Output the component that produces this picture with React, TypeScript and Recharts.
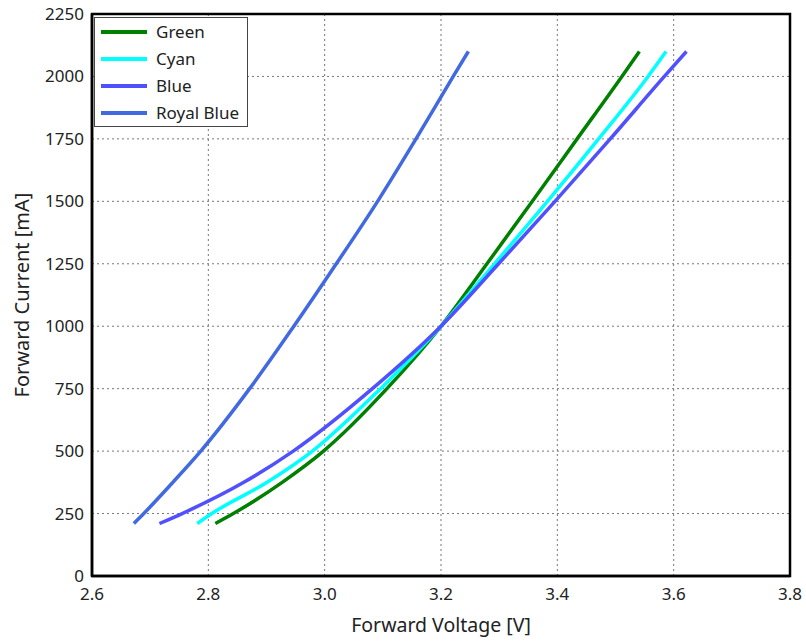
import React from 'react';
import {
  LineChart,
  Line,
  XAxis,
  YAxis,
  CartesianGrid,
  ReferenceArea,
} from 'recharts';

// Forward current sample points [mA], shared by all curves
const currentMA = [210, 250, 375, 500, 750, 1000, 1250, 1500, 1750, 2000, 2100];

// Forward voltage [V] at the currents above
const greenV = [2.812, 2.843, 2.927, 2.998, 3.107, 3.2, 3.279, 3.357, 3.434, 3.511, 3.541];
const cyanV = [2.781, 2.806, 2.901, 2.979, 3.096, 3.2, 3.292, 3.383, 3.471, 3.556, 3.587];
const blueV = [2.716, 2.755, 2.861, 2.946, 3.082, 3.2, 3.299, 3.396, 3.491, 3.584, 3.622];
const royalBlueV = [2.672, 2.689, 2.739, 2.787, 2.871, 2.947, 3.02, 3.091, 3.157, 3.221, 3.247];

const xTicks = [2.6, 2.8, 3.0, 3.2, 3.4, 3.6, 3.8];
const yTicks = [0, 250, 500, 750, 1000, 1250, 1500, 1750, 2000, 2250];

const SERIES = [
  { name: 'Green', color: '#008000', volts: greenV },
  { name: 'Cyan', color: '#00ffff', volts: cyanV },
  { name: 'Blue', color: '#5050ff', volts: blueV },
  { name: 'Royal Blue', color: '#4169e1', volts: royalBlueV },
];

const FONT = '"Noto Sans", "Open Sans", sans-serif';

function toPoints(volts: number[]) {
  return volts.map((v, i) => ({ v, i: currentMA[i] }));
}

// legend drawn as an overlay so it doesn't eat into the plot area
function LegendBox() {
  return (
    <div
      style={{
        position: 'absolute',
        left: 94,
        top: 17,
        border: '1.5px solid #444',
        background: '#fff',
        padding: '0 8px 0 6px',
        fontFamily: FONT,
        fontSize: 17,
        color: '#222',
      }}
    >
      {SERIES.map((s) => (
        <div key={s.name} style={{ display: 'flex', alignItems: 'center', height: 27 }}>
          <svg width={46} height={6} style={{ marginRight: 9 }}>
            <line x1={0} y1={3} x2={46} y2={3} stroke={s.color} strokeWidth={4} />
          </svg>
          <span>{s.name}</span>
        </div>
      ))}
    </div>
  );
}

export default function App() {
  return (
    <div style={{ position: 'absolute', left: 0, top: 0, width: 806, height: 642, background: '#fff' }}>
      <LineChart
        width={806}
        height={642}
        margin={{ top: 14, right: 16, left: 0, bottom: 0 }}
      >
        <CartesianGrid stroke="#777" strokeDasharray="2 3" />
        <XAxis
          type="number"
          dataKey="v"
          domain={[2.6, 3.8]}
          ticks={xTicks}
          allowDataOverflow
          tickFormatter={(t: number) => t.toFixed(1)}
          height={66}
          stroke="#000"
          strokeWidth={2.5}
          tickLine={false}
          tickSize={6}
          tickMargin={6}
          tick={{ fill: '#222', fontSize: 17, fontFamily: FONT }}
          label={{
            value: 'Forward Voltage [V]',
            position: 'insideBottom',
            offset: 10,
            fill: '#222',
            fontSize: 19.5,
            fontFamily: FONT,
          }}
        />
        <YAxis
          type="number"
          dataKey="i"
          domain={[0, 2250]}
          ticks={yTicks}
          allowDataOverflow
          width={92}
          stroke="#000"
          strokeWidth={2.5}
          tickLine={false}
          tickSize={6}
          tickMargin={2}
          tick={{ fill: '#222', fontSize: 17, fontFamily: FONT }}
          label={{
            value: 'Forward Current [mA]',
            angle: -90,
            position: 'insideLeft',
            offset: 22,
            fill: '#222',
            fontSize: 20,
            fontFamily: FONT,
            style: { textAnchor: 'middle' },
          }}
        />
        <ReferenceArea
          x1={2.6}
          x2={3.8}
          y1={0}
          y2={2250}
          fill="none"
          stroke="#000"
          strokeWidth={2.5}
        />
        {SERIES.map((s) => (
          <Line
            key={s.name}
            name={s.name}
            data={toPoints(s.volts)}
            dataKey="i"
            type="monotone"
            stroke={s.color}
            strokeWidth={3.5}
            dot={false}
            activeDot={false}
            isAnimationActive={false}
          />
        ))}
      </LineChart>
      <LegendBox />
    </div>
  );
}
